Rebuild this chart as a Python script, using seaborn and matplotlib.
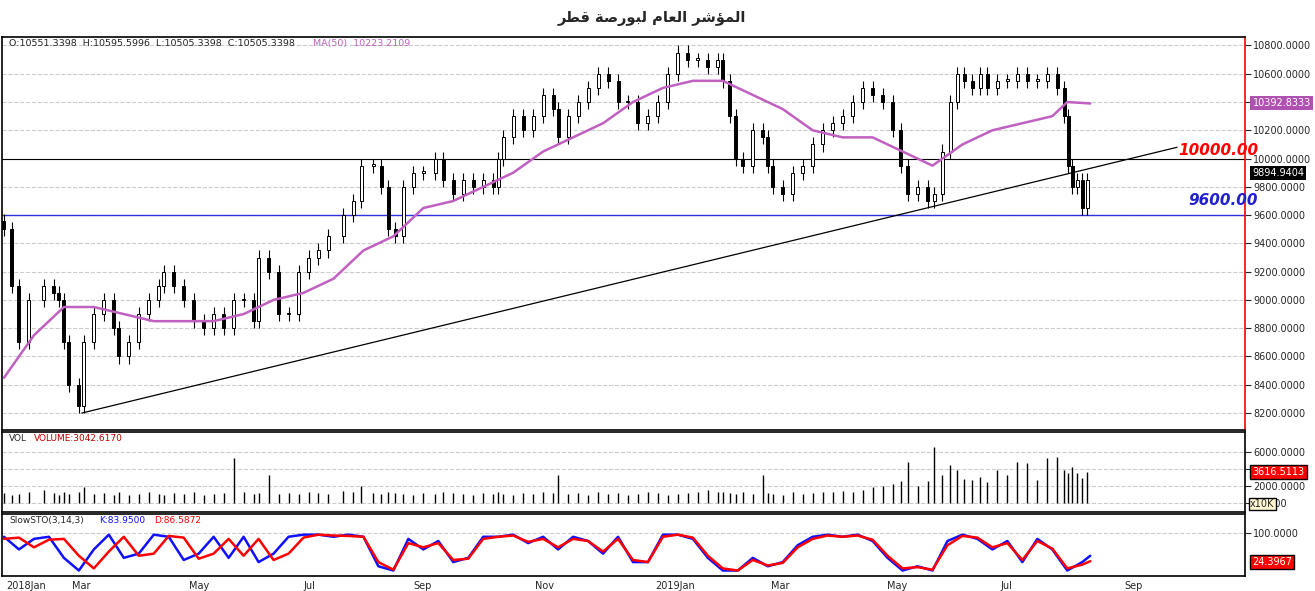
import numpy as np
import pandas as pd
import matplotlib
matplotlib.use("Agg")
import matplotlib.pyplot as plt
import seaborn as sns

sns.set_style("white")
plt.rcParams['font.family'] = ['DejaVu Sans']

# candle position (chart x units) and closing price
t = [0, 8, 15, 25, 40, 50, 55, 60, 65, 75, 80, 90, 100, 110, 115, 125, 135, 145, 155, 160, 170, 180, 190,
     200, 210, 220, 230, 240, 250, 255, 265, 275, 285, 295, 305, 315, 325, 340, 350, 358, 370, 378, 385, 392,
     400, 410, 420, 432, 440, 450, 460, 470, 480, 490, 495, 500, 510, 520, 530, 540, 550, 555, 565, 575, 585,
     595, 605, 615, 625, 635, 645, 655, 665, 675, 685, 695, 705, 715, 720, 727, 733, 740, 750, 760, 765, 770,
     780, 790, 800, 810, 820, 830, 840, 850, 860, 870, 880, 890, 898, 905, 915, 925, 932, 940, 948, 955, 962,
     970, 978, 985, 995, 1005, 1015, 1025, 1035, 1045, 1055, 1062, 1066, 1070, 1075, 1080, 1085, 1088]
close = [9500, 9100, 8700, 9000, 9100, 9050, 9000, 8700, 8400, 8250, 8700, 8900, 9000, 8800, 8600, 8700, 8900,
         9000, 9100, 9200, 9100, 9000, 8850, 8800, 8900, 8800, 9000, 9000, 8850, 9300, 9200, 8900, 8900, 9200,
         9300, 9350, 9450, 9600, 9700, 9950, 9950, 9800, 9500, 9450, 9800, 9900, 9900, 10000, 9850, 9750, 9850,
         9800, 9850, 9800, 10000, 10150, 10300, 10200, 10300, 10450, 10350, 10150, 10300, 10400, 10500, 10600,
         10550, 10400, 10400, 10250, 10300, 10400, 10600, 10750, 10700, 10700, 10650, 10700, 10550, 10300, 10000,
         9950, 10200, 10150, 9950, 9800, 9750, 9900, 9950, 10100, 10200, 10250, 10300, 10400, 10500, 10450, 10400,
         10200, 9950, 9750, 9800, 9700, 9750, 10050, 10400, 10600, 10550, 10500, 10600, 10500, 10550, 10550,
         10600, 10550, 10550, 10600, 10500, 10300, 9950, 9800, 9850, 9650, 9850, 9900]
volume = [1100, 900, 1000, 1200, 1500, 1100, 900, 1300, 1000, 1200, 1800, 1000, 1100, 900, 1200,
          900, 1000, 1300, 1000, 900, 1100, 1000, 1200, 900, 1000, 1100, 5300, 1200, 1000, 1100, 3200, 1000,
          1100, 1000, 1300, 1100, 1000, 1400, 1200, 2000, 1100, 1000, 1200, 1100, 1000, 900, 1100, 1000, 1200,
          1100, 1000, 900, 1100, 1000, 1200, 1000, 900, 1100, 1000, 1200, 1100, 3300, 1000, 1100, 900, 1200, 1000,
          1100, 900, 1000, 1200, 1100, 900, 1000, 1100, 1200, 1500, 1300, 1200, 1100, 1000, 1200, 1000, 3300, 1100,
          1000, 900, 1200, 1000, 1100, 1300, 1200, 1400, 1300, 1500, 1800, 2000, 2200, 2600, 4800, 2000, 2600, 6500,
          3200, 4400, 3800, 2800, 2700, 3000, 2400, 3800, 3300, 4800, 4600, 2700, 5300, 5400, 3800, 3500, 4200,
          3500, 2900, 3600]

ma_t = [0, 30, 60, 90, 120, 150, 180, 210, 240, 270, 300, 330, 360, 390, 420, 450, 480, 510, 540, 570, 600,
        630, 660, 690, 720, 750, 780, 810, 840, 870, 900, 930, 960, 990, 1020, 1050, 1065, 1088]
ma50 = [8450, 8750, 8950, 8950, 8900, 8850, 8850, 8850, 8900, 9000, 9050, 9150, 9350, 9450, 9650, 9700, 9800,
        9900, 10050, 10150, 10250, 10400, 10500, 10550, 10550, 10450, 10350, 10200, 10150, 10150, 10050, 9950,
        10100, 10200, 10250, 10300, 10400, 10390]

st_t = list(range(0, 1081, 15)) + [1088]
stoch_k = [90, 60, 85, 90, 40, 10, 60, 95, 40, 50, 95, 90, 35, 50, 90, 40, 90, 30, 50, 90, 95, 95, 90, 95, 90,
           20, 10, 85, 60, 80, 30, 40, 90, 90, 95, 75, 90, 60, 90, 80, 50, 90, 30, 30, 95, 95, 85, 40, 10, 10,
           40, 20, 30, 70, 90, 95, 90, 95, 80, 40, 10, 20, 10, 80, 95, 85, 60, 80, 30, 85, 60, 10, 30, 45]
stoch_d = [85, 88, 65, 83, 85, 45, 15, 55, 90, 45, 50, 92, 88, 38, 50, 85, 45, 85, 35, 50, 88, 95, 93, 92, 90,
           30, 12, 75, 65, 75, 35, 38, 85, 90, 93, 78, 85, 65, 85, 80, 55, 85, 35, 30, 90, 95, 88, 45, 15, 10,
           35, 22, 28, 65, 85, 93, 90, 93, 83, 45, 15, 18, 12, 70, 92, 88, 65, 75, 35, 80, 62, 15, 24, 32]

month_pos = [2, 68, 185, 300, 410, 532, 652, 768, 884, 998, 1122]
month_lab = ["2018Jan", "Mar", "May", "Jul", "Sep", "Nov", "2019Jan", "Mar", "May", "Jul", "Sep"]

# Arabic title in presentation forms, reversed for left-to-right drawing
title_forms = [0xFE8D, 0xFEDF, 0xFEE4, 0xFE86, 0xFEB7, 0xFEAE, 0x20,
               0xFE8D, 0xFEDF, 0xFECC, 0xFE8E, 0xFEE1, 0x20,
               0xFEDF, 0xFE92, 0xFEEE, 0xFEAD, 0xFEBB, 0xFE94, 0x20,
               0xFED7, 0xFEC4, 0xFEAE]
title = ''.join(chr(c) for c in title_forms)[::-1]

n = min(len(t), len(close), len(volume))
t, close, volume = t[:n], close[:n], volume[:n]
m = min(len(st_t), len(stoch_k), len(stoch_d))
st_t, stoch_k, stoch_d = st_t[:m], stoch_k[:m], stoch_d[:m]

W, H = 1315, 591
fig = plt.figure(figsize=(W / 100, H / 100), dpi=100)


def box(x0, y0, x1, y1):
    return fig.add_axes([x0 / W, 1 - y1 / H, (x1 - x0) / W, (y1 - y0) / H])


ax = box(2, 37, 1245, 430)
axv = box(2, 432, 1245, 512)
axs = box(2, 514, 1245, 576)
xmin, xmax = -2, 1243

fig.text(652 / W, 1 - 18 / H, title, ha='center', va='center', fontsize=10.5, fontweight='bold')

# candles
opens = [close[0] + 60] + close[:-1]
for x, o, c in zip(t, opens, close):
    hi, lo = max(o, c) + 50, min(o, c) - 50
    ax.vlines(x, lo, hi, color='black', lw=0.8, zorder=3)
    up = c >= o
    ax.bar(x, max(abs(c - o), 10), bottom=min(o, c), width=3, color='white' if up else 'black',
           edgecolor='black', lw=0.7, zorder=4)
sns.lineplot(x=ma_t, y=ma50, ax=ax, color='#c060c0', lw=1.8, zorder=5)
ax.axhline(10000, color='black', lw=0.8)
ax.axhline(9600, color='#3030e0', lw=1)
ax.plot([78, 1175], [8200, 10080], color='black', lw=0.9)
ax.text(1176, 10060, "10000.00", color='red', fontsize=11, fontweight='bold', style='italic', va='center')
ax.text(1186, 9700, "9600.00", color='#2020d0', fontsize=11, fontweight='bold', style='italic', va='center')
ax.set_ylim(8080, 10860)
ax.set_yticks(range(8200, 10801, 200))
ax.yaxis.set_major_formatter(matplotlib.ticker.FormatStrFormatter('%.4f'))
ax.text(5, 10845, "O:10551.3398  H:10595.5996  L:10505.3398  C:10505.3398", fontsize=6.8, va='top')
ax.text(310, 10845, "MA(50)  10223.2109", fontsize=6.8, va='top', color='#c060c0')
ax.text(1.006, (10392.83 - 8080) / 2780, "10392.8333", transform=ax.transAxes, fontsize=7, color='white',
        va='center', bbox=dict(fc='#b050b0', ec='none', pad=1.5))
ax.text(1.006, (9894.94 - 8080) / 2780, "9894.9404", transform=ax.transAxes, fontsize=7, color='white',
        va='center', bbox=dict(fc='black', ec='none', pad=1.5))

# volume
axv.vlines(t, 0, volume, color='black', lw=1)
axv.set_ylim(-1100, 8300)
axv.set_yticks([0, 2000, 4000, 6000])
axv.yaxis.set_major_formatter(matplotlib.ticker.FormatStrFormatter('%.4f'))
axv.text(5, 8100, "VOL", fontsize=6.5, va='top')
axv.text(30, 8100, "VOLUME:3042.6170", fontsize=6.5, va='top', color='#c00000')
axv.text(1.006, (3616 + 1100) / 9400, "3616.5113", transform=axv.transAxes, fontsize=7, color='white',
         va='center', bbox=dict(fc='red', ec='black', pad=1.5))
axv.text(1.004, 0.1, "x10K", transform=axv.transAxes, fontsize=7, va='center',
         bbox=dict(fc='#fff8d0', ec='black', pad=1))

# slow stochastic
sns.lineplot(x=st_t, y=stoch_k, ax=axs, color='#1010ff', lw=1.8)
sns.lineplot(x=st_t, y=stoch_d, ax=axs, color='red', lw=1.8)
axs.set_ylim(-3, 144)
axs.set_yticks([100])
axs.yaxis.set_major_formatter(matplotlib.ticker.FormatStrFormatter('%.4f'))
axs.text(5, 140, "SlowSTO(3,14,3)", fontsize=6.5, va='top')
axs.text(95, 140, "K:83.9500", fontsize=6.5, va='top', color='#1010ff')
axs.text(150, 140, "D:86.5872", fontsize=6.5, va='top', color='red')
axs.text(1.006, 0.22, "24.3967", transform=axs.transAxes, fontsize=7, color='white', va='center',
         bbox=dict(fc='red', ec='black', pad=1.5))

for a in (ax, axv, axs):
    a.set_xlim(xmin, xmax)
    a.yaxis.tick_right()
    a.tick_params(axis='y', labelsize=7, length=4, direction='out', pad=2)
    a.grid(axis='y', ls='--', color='#cccccc', lw=0.8)
    a.set_xlabel('')
    a.set_ylabel('')
    for s in a.spines.values():
        s.set_color('black')
        s.set_linewidth(1.2)
ax.spines['right'].set_color('red')
for a in (ax, axv):
    a.set_xticks([])
axs.set_xticks(month_pos)
axs.set_xticklabels(month_lab, fontsize=7, ha='left')
axs.tick_params(axis='x', length=3, pad=0.5)

fig.savefig("out.png", dpi=100)
